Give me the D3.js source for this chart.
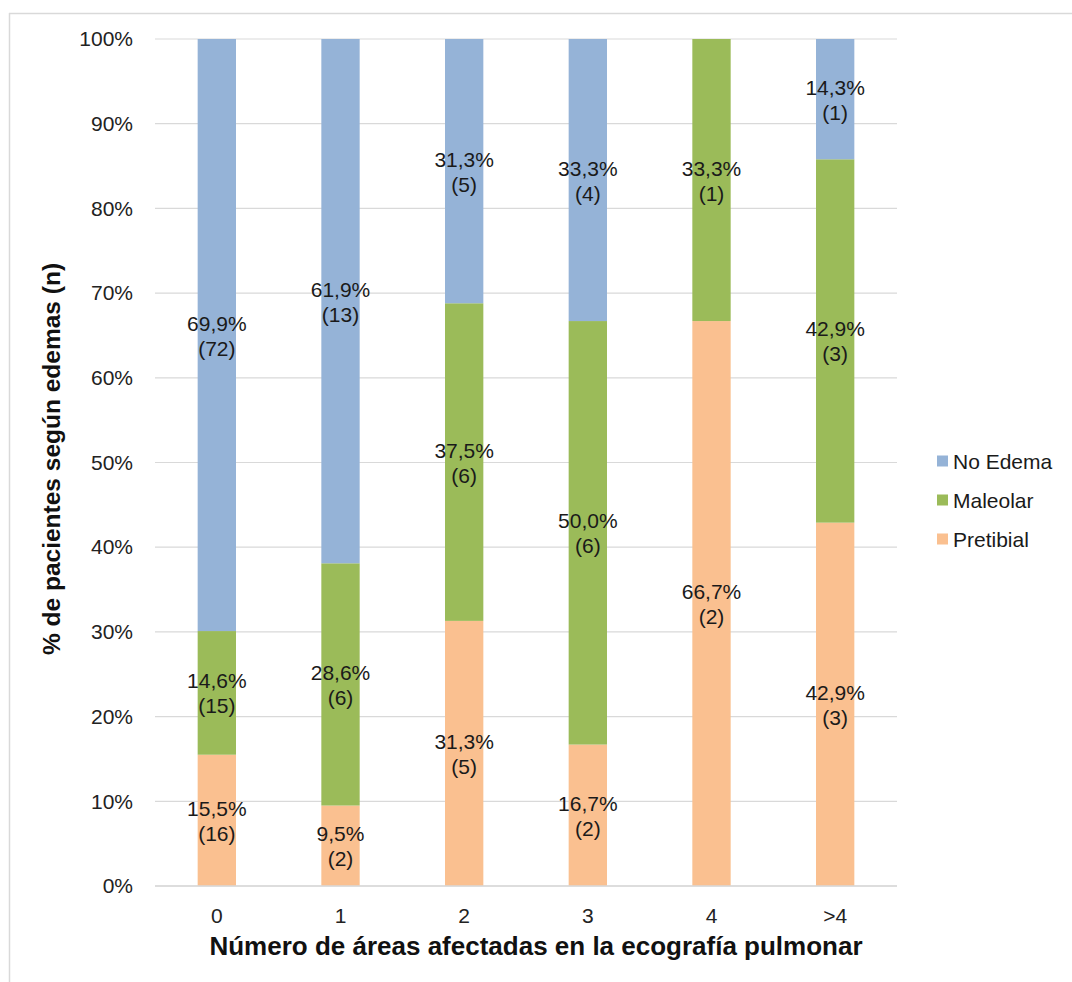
<!DOCTYPE html>
<html><head><meta charset="utf-8">
<script src="https://cdn.jsdelivr.net/npm/d3@7"></script>
<style>body{margin:0;background:#fff;} svg{display:block;font-family:"Liberation Sans",Arial,sans-serif;}</style>
</head><body>
<svg id="c" width="1072" height="982"></svg>
<script>
const categories = ["0", "1", "2", "3", "4", ">4"];
const seriesNames = ["Pretibial", "Maleolar", "No Edema"];
const pretibialPct = [15.5, 9.5, 31.3, 16.7, 66.7, 42.9];
const pretibialN   = [16, 2, 5, 2, 2, 3];
const maleolarPct  = [14.6, 28.6, 37.5, 50.0, 33.3, 42.9];
const maleolarN    = [15, 6, 6, 6, 1, 3];
const noEdemaPct   = [69.9, 61.9, 31.3, 33.3, 0, 14.3];
const noEdemaN     = [72, 13, 5, 4, 0, 1];
const yTicks = [0, 10, 20, 30, 40, 50, 60, 70, 80, 90, 100];
const colors = {"Pretibial": "#FAC090", "Maleolar": "#9BBB59", "No Edema": "#95B3D7"};

const pctBy = {"Pretibial": pretibialPct, "Maleolar": maleolarPct, "No Edema": noEdemaPct};
const nBy = {"Pretibial": pretibialN, "Maleolar": maleolarN, "No Edema": noEdemaN};

const svg = d3.select("#c");
// frame
svg.append("line").attr("x1", 9).attr("x2", 1072).attr("y1", 13.5).attr("y2", 13.5).attr("stroke", "#d9d9d9").attr("stroke-width", 1.5);
svg.append("line").attr("x1", 9.5).attr("x2", 9.5).attr("y1", 13).attr("y2", 982).attr("stroke", "#d9d9d9").attr("stroke-width", 1.5);

const x = d3.scaleBand().domain(categories).range([155, 897]).paddingInner(0.69).paddingOuter(0.345);
const y = d3.scaleLinear().domain([0, 100]).range([886, 39]).clamp(true);

// gridlines
svg.append("g").selectAll("line").data(yTicks).join("line")
  .attr("x1", 155).attr("x2", 897)
  .attr("y1", d => y(d)).attr("y2", d => y(d))
  .attr("stroke", "#d9d9d9").attr("stroke-width", 1.2);

// y axis labels
const yAxis = d3.axisLeft(y).tickValues(yTicks).tickSize(0).tickPadding(0).tickFormat(d => d + "%");
const gy = svg.append("g").attr("transform", "translate(133,0)").call(yAxis);
gy.select(".domain").remove();
gy.selectAll("text").attr("font-size", 21).attr("fill", "#222").attr("font-family", "Liberation Sans, Arial, sans-serif");

// stacked data
const rows = categories.map((c, i) => {
  const r = {cat: c};
  seriesNames.forEach(s => r[s] = pctBy[s][i]);
  return r;
});
const stack = d3.stack().keys(seriesNames)(rows);

const gBars = svg.append("g");
stack.forEach(layer => {
  gBars.append("g").selectAll("rect").data(layer).join("rect")
    .attr("x", d => x(d.data.cat))
    .attr("width", x.bandwidth())
    .attr("y", d => y(d[1]))
    .attr("height", d => Math.max(0, y(d[0]) - y(d[1])))
    .attr("fill", colors[layer.key]);
});

// x axis
const xAxis = d3.axisBottom(x).tickSize(0).tickPadding(0);
const gx = svg.append("g").attr("transform", "translate(0,886)").call(xAxis);
gx.select(".domain").remove();
gx.selectAll("text").attr("font-size", 21).attr("fill", "#222").attr("dy", null).attr("y", 37)
  .attr("font-family", "Liberation Sans, Arial, sans-serif");
svg.append("line").attr("x1", 155).attr("x2", 897).attr("y1", 886).attr("y2", 886).attr("stroke", "#d9d9d9").attr("stroke-width", 1.5);

// labels
const fmt = v => v.toFixed(1).replace(".", ",") + "%";
const gLab = svg.append("g").attr("font-size", 21).attr("fill", "#1a1a1a").attr("text-anchor", "middle");
stack.forEach(layer => {
  layer.forEach((d, i) => {
    const v = pctBy[layer.key][i];
    if (v <= 0) return;
    const cy = (y(d[0]) + y(Math.min(d[1], 100))) / 2;
    const cx = x(d.data.cat) + x.bandwidth() / 2;
    gLab.append("text").attr("x", cx).attr("y", cy - 12).attr("dominant-baseline", "central").text(fmt(v));
    gLab.append("text").attr("x", cx).attr("y", cy + 13).attr("dominant-baseline", "central").text("(" + nBy[layer.key][i] + ")");
  });
});

// axis titles
svg.append("text").attr("x", 536).attr("y", 955).attr("text-anchor", "middle")
  .attr("font-size", 26).attr("font-weight", "bold").attr("fill", "#111")
  .text("Número de áreas afectadas en la ecografía pulmonar");
svg.append("text").attr("transform", "translate(60,459) rotate(-90)").attr("text-anchor", "middle")
  .attr("font-size", 24.5).attr("font-weight", "bold").attr("fill", "#111")
  .text("% de pacientes según edemas (n)");

// legend
const legendOrder = ["No Edema", "Maleolar", "Pretibial"];
const lg = svg.append("g");
legendOrder.forEach((s, i) => {
  const ly = 461 + i * 39;
  lg.append("rect").attr("x", 937).attr("y", ly - 5.5).attr("width", 11).attr("height", 11).attr("fill", colors[s]);
  lg.append("text").attr("x", 953).attr("y", ly).attr("dominant-baseline", "central")
    .attr("font-size", 21).attr("fill", "#1a1a1a").text(s);
});
</script>
</body></html>
